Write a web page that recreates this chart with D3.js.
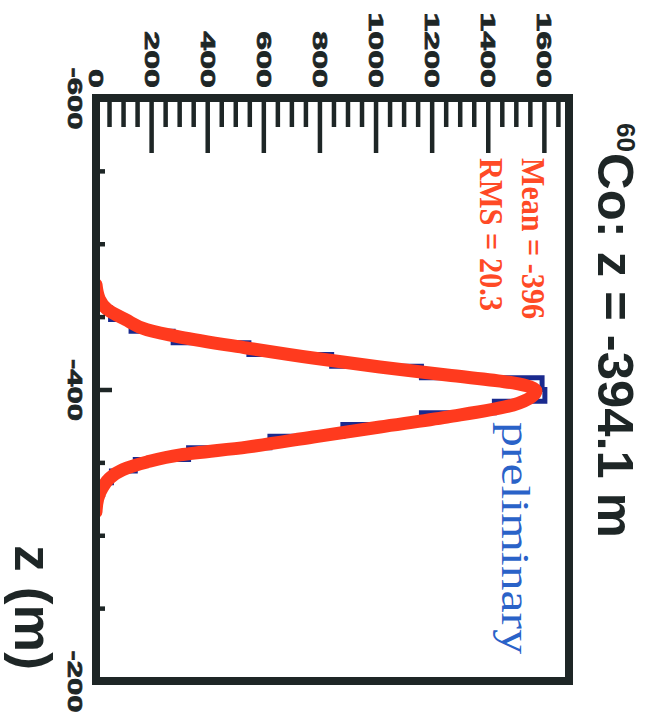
<!DOCTYPE html>
<html>
<head>
<meta charset="utf-8">
<script src="https://cdn.jsdelivr.net/npm/d3@7"></script>
<style>
  html, body { margin: 0; padding: 0; background: #ffffff; }
  svg { display: block; }
</style>
</head>
<body>
<svg id="chart" width="653" height="719"></svg>
<script>
// ---- data ----
const zDomain = [-600, -200];
const countDomain = [0, 1686];

const zMajorTicks = [-600, -400, -200];
const zMinorTicks = [-550, -500, -450, -350, -300, -250];
const zTickLabels = ["-600", "-400", "-200"];

const countMajorTicks = [0, 200, 400, 600, 800, 1000, 1200, 1400, 1600];
const countMinorTicks = [50, 100, 150, 250, 300, 350, 450, 500, 550, 650, 700, 750, 850, 900, 950,
  1050, 1100, 1150, 1250, 1300, 1350, 1450, 1500, 1550, 1650];
const countTickLabels = ["0", "200", "400", "600", "800", "1000", "1200", "1400", "1600"];

// blue histogram (data), 8 m bins
const binWidth = 8;
const blueBinCenters = [-468, -460, -452, -444, -436, -428, -420, -412, -404, -396,
  -388, -380, -372, -364, -356, -348, -340, -332, -324, -316];
const blueCounts = [3, 14, 52, 125, 275, 545, 840, 1160, 1590, 1600,
  1420, 1160, 880, 620, 330, 140, 55, 24, 8, 2];

// red curve
const redZ = [-472, -462, -455, -448, -441, -436, -428.5, -421.6, -415.4, -409.9, -404.5, -399,
  -389.4, -381.1, -374.3, -367.4, -360.5, -355.1, -350.3, -345, -339, -333, -325, -316];
const redCounts = [0, 12, 40, 105, 182, 300, 538, 774, 1012, 1251, 1487, 1568,
  1487, 1251, 1012, 774, 538, 300, 182, 95, 48, 24, 6, 0];

const titleSup = "60";
const titleMain = "Co: z = -394.1 m";
const xLabel = "z (m)";
const statLines = ["Mean = -396", "RMS = 20.3"];
const watermark = "preliminary";

// ---- drawing (chart drawn upright, then rotated 90° clockwise) ----
const svg = d3.select("#chart");
const g = svg.append("g").attr("transform", "translate(653,0) rotate(90)");

const frame = { left: 98, right: 681, top: 84, bottom: 557 };
const x = d3.scaleLinear().domain(zDomain).range([frame.left, frame.right]);
const y = d3.scaleLinear().domain(countDomain).range([frame.bottom, frame.top]);

const ink = "#1e2626";

g.append("clipPath").attr("id", "plotclip")
  .append("rect")
  .attr("x", frame.left).attr("y", frame.top)
  .attr("width", frame.right - frame.left).attr("height", frame.bottom - frame.top);

const plot = g.append("g").attr("clip-path", "url(#plotclip)");

// blue step histogram
const stepPts = [];
blueBinCenters.forEach((c, i) => {
  const lo = c - binWidth / 2, hi = c + binWidth / 2;
  if (i === 0) stepPts.push([lo, 0]);
  stepPts.push([lo, blueCounts[i]]);
  stepPts.push([hi, blueCounts[i]]);
  if (i === blueBinCenters.length - 1) stepPts.push([hi, 0]);
});
plot.append("path")
  .datum(stepPts)
  .attr("fill", "none")
  .attr("stroke", "#1a2a8e")
  .attr("stroke-width", 5)
  .attr("d", d3.line().x(d => x(d[0])).y(d => y(d[1])));

// red curve
const redPts = redZ.map((z, i) => [z, redCounts[i]]);
plot.append("path")
  .datum(redPts)
  .attr("fill", "none")
  .attr("stroke", "#ff3a1e")
  .attr("stroke-width", 13)
  .attr("stroke-linejoin", "round")
  .attr("stroke-linecap", "round")
  .attr("d", d3.line().curve(d3.curveMonotoneX).x(d => x(d[0])).y(d => y(d[1])));

// axes ticks
function styleTicks(sel) {
  sel.select(".domain").remove();
  sel.selectAll(".tick line").attr("stroke", ink).attr("stroke-width", 4.5);
  sel.selectAll(".tick text").remove();
}
g.append("g").attr("transform", `translate(${frame.left},0)`)
  .call(d3.axisRight(y).tickValues(countMajorTicks).tickSize(55)).call(styleTicks);
g.append("g").attr("transform", `translate(${frame.left},0)`)
  .call(d3.axisRight(y).tickValues(countMinorTicks).tickSize(29)).call(styleTicks);
g.append("g").attr("transform", `translate(0,${frame.bottom})`)
  .call(d3.axisTop(x).tickValues(zMajorTicks).tickSize(16)).call(styleTicks);
g.append("g").attr("transform", `translate(0,${frame.bottom})`)
  .call(d3.axisTop(x).tickValues(zMinorTicks).tickSize(9)).call(styleTicks);

// frame
g.append("rect")
  .attr("x", frame.left).attr("y", frame.top)
  .attr("width", frame.right - frame.left).attr("height", frame.bottom - frame.top)
  .attr("fill", "none").attr("stroke", ink).attr("stroke-width", 8);

// tick labels
const labelFont = "'Liberation Sans', Arial, sans-serif";
const countLabels = g.append("g").attr("transform", "translate(88,0)")
  .call(d3.axisLeft(y).tickValues(countMajorTicks).tickSize(0).tickPadding(0)
    .tickFormat((d, i) => countTickLabels[i]));
countLabels.select(".domain").remove();
countLabels.selectAll(".tick text")
  .attr("x", 0).attr("dy", null).attr("y", 7)
  .attr("text-anchor", "end")
  .attr("fill", ink).attr("stroke", ink).attr("stroke-width", 0.7)
  .attr("font-family", labelFont).attr("font-weight", "bold").attr("font-size", 20)
  .attr("textLength", (d, i) => countTickLabels[i].length * 18.9)
  .attr("lengthAdjust", "spacingAndGlyphs");

const zLabels = g.append("g").attr("transform", "translate(0,585)")
  .call(d3.axisBottom(x).tickValues(zMajorTicks).tickSize(0).tickPadding(0)
    .tickFormat((d, i) => zTickLabels[i]));
zLabels.select(".domain").remove();
zLabels.selectAll(".tick text")
  .attr("y", 0).attr("dy", null)
  .attr("text-anchor", "middle")
  .attr("fill", ink).attr("stroke", ink).attr("stroke-width", 0.7)
  .attr("font-family", labelFont).attr("font-weight", "bold").attr("font-size", 20)
  .attr("textLength", 62)
  .attr("lengthAdjust", "spacingAndGlyphs");

// title
g.append("text")
  .attr("x", 152).attr("y", 36)
  .attr("text-anchor", "end")
  .attr("font-family", labelFont).attr("font-weight", "bold").attr("font-size", 26)
  .attr("fill", ink)
  .text(titleSup);
g.append("text")
  .attr("x", 153).attr("y", 55)
  .attr("font-family", labelFont).attr("font-weight", "bold").attr("font-size", 50)
  .attr("fill", ink)
  .attr("textLength", 385).attr("lengthAdjust", "spacingAndGlyphs")
  .text(titleMain);

// x-axis title
g.append("text")
  .attr("x", 670).attr("y", 638)
  .attr("text-anchor", "end")
  .attr("font-family", labelFont).attr("font-weight", "bold").attr("font-size", 51)
  .attr("fill", ink)
  .attr("textLength", 125).attr("lengthAdjust", "spacingAndGlyphs")
  .text(xLabel);

// stats text
const serif = "'Liberation Serif', 'Times New Roman', serif";
g.selectAll("text.stat").data(statLines).enter().append("text")
  .attr("class", "stat")
  .attr("x", 158)
  .attr("y", (d, i) => 131 + i * 42)
  .attr("font-family", serif).attr("font-weight", "bold").attr("font-size", 33)
  .attr("fill", "#ff4a26")
  .attr("textLength", (d, i) => i === 0 ? 161 : 153)
  .attr("lengthAdjust", "spacingAndGlyphs")
  .text(d => d);

// watermark
g.append("text")
  .attr("x", 422).attr("y", 151)
  .attr("font-family", serif).attr("font-size", 40)
  .attr("fill", "#2a62c8")
  .attr("textLength", 232).attr("lengthAdjust", "spacingAndGlyphs")
  .text(watermark);
</script>
</body>
</html>
